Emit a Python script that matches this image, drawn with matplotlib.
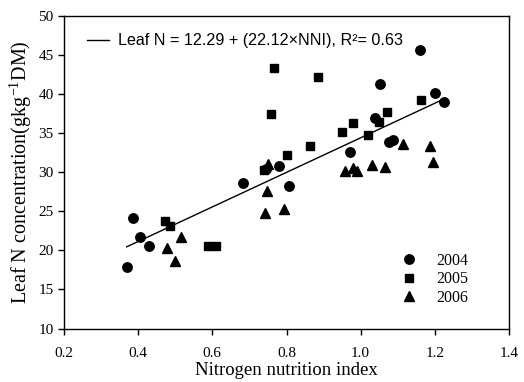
import numpy as np
import matplotlib
matplotlib.use("Agg")
import matplotlib.pyplot as plt
from matplotlib.lines import Line2D

# Data.
nni_2004 = [0.369, 0.387, 0.406, 0.430, 0.684, 0.745, 0.780, 0.808,
            0.970, 1.039, 1.053, 1.076, 1.088, 1.161, 1.200, 1.225]
n_2004 = [17.9, 24.2, 21.7, 20.6, 28.6, 30.4, 30.8, 28.3,
          32.6, 36.9, 41.3, 33.9, 34.1, 45.6, 40.1, 39.0]

nni_2005 = [0.473, 0.485, 0.588, 0.611, 0.738, 0.757, 0.765, 0.801,
            0.863, 0.885, 0.951, 0.978, 1.021, 1.050, 1.072, 1.164]
n_2005 = [23.8, 23.1, 20.6, 20.6, 30.3, 37.4, 43.4, 32.2,
          33.4, 42.2, 35.2, 36.3, 34.8, 36.4, 37.7, 39.2]

nni_2006 = [0.478, 0.500, 0.516, 0.742, 0.747, 0.750, 0.793, 0.959,
            0.979, 0.989, 1.031, 1.066, 1.114, 1.187, 1.196]
n_2006 = [20.3, 18.6, 21.7, 24.8, 27.6, 31.0, 25.3, 30.1,
          30.5, 30.2, 30.9, 30.7, 33.6, 33.4, 31.3]

intercept, slope = 12.29, 22.12
fit_range = [0.369, 1.215]

x_ticks = [0.2, 0.4, 0.6, 0.8, 1.0, 1.2, 1.4]
y_ticks = [10, 15, 20, 25, 30, 35, 40, 45, 50]

plt.rcParams["font.family"] = "Liberation Serif"
plt.rcParams["mathtext.fontset"] = "custom"
plt.rcParams["mathtext.rm"] = "Liberation Serif"
plt.rcParams["mathtext.it"] = "Liberation Serif:italic"

fig = plt.figure(figsize=(5.24, 3.82), dpi=100)
ax = fig.add_axes([64 / 524, 1 - 328.5 / 382, 445 / 524, 312.5 / 382])

ax.plot(nni_2004, n_2004, "o", color="k", markersize=6.8, label="2004")
ax.plot(nni_2005, n_2005, "s", color="k", markersize=5.6, label="2005")
ax.plot(nni_2006, n_2006, "^", color="k", markersize=6.8, label="2006")

fx = np.array(fit_range)
fit_line, = ax.plot(fx, intercept + slope * fx, color="k", linewidth=1.0)

ax.set_xlim(0.2, 1.4)
ax.set_ylim(10, 50)
ax.set_xticks(x_ticks)
ax.set_xticklabels([f"{v:.1f}" for v in x_ticks])
ax.set_yticks(y_ticks)
ax.tick_params(direction="out", length=4, width=1, labelsize=11, color="k")
ax.tick_params(axis="x", pad=9)
for s in ax.spines.values():
    s.set_linewidth(1.0)

ax.set_xlabel("Nitrogen nutrition index", fontsize=13.5, labelpad=2)
ax.set_ylabel("Leaf N concentration(gkg$^{-1}$DM)", fontsize=14.5, labelpad=3)

# Regression legend at the top.
leg1 = ax.legend(
    [fit_line], ["Leaf N = 12.29 + (22.12\u00d7NNI), R\u00b2= 0.63"],
    loc="upper left", bbox_to_anchor=(0.052, 0.945), frameon=False,
    prop={"family": "Liberation Sans", "size": 11.6},
    handlelength=1.35, handletextpad=0.55, borderpad=0, borderaxespad=0,
)
ax.add_artist(leg1)

# Year legend in the lower right.
handles = [
    Line2D([], [], marker="o", color="k", linestyle="none", markersize=6.8),
    Line2D([], [], marker="s", color="k", linestyle="none", markersize=5.6),
    Line2D([], [], marker="^", color="k", linestyle="none", markersize=6.8),
]
ax.legend(
    handles, ["2004", "2005", "2006"],
    loc="upper left", bbox_to_anchor=(0.757, 0.243), frameon=False,
    prop={"size": 11.5}, handlelength=1.0, handletextpad=1.2,
    labelspacing=0.17, borderpad=0, borderaxespad=0,
)

fig.savefig("out.png", dpi=100, facecolor="w")
